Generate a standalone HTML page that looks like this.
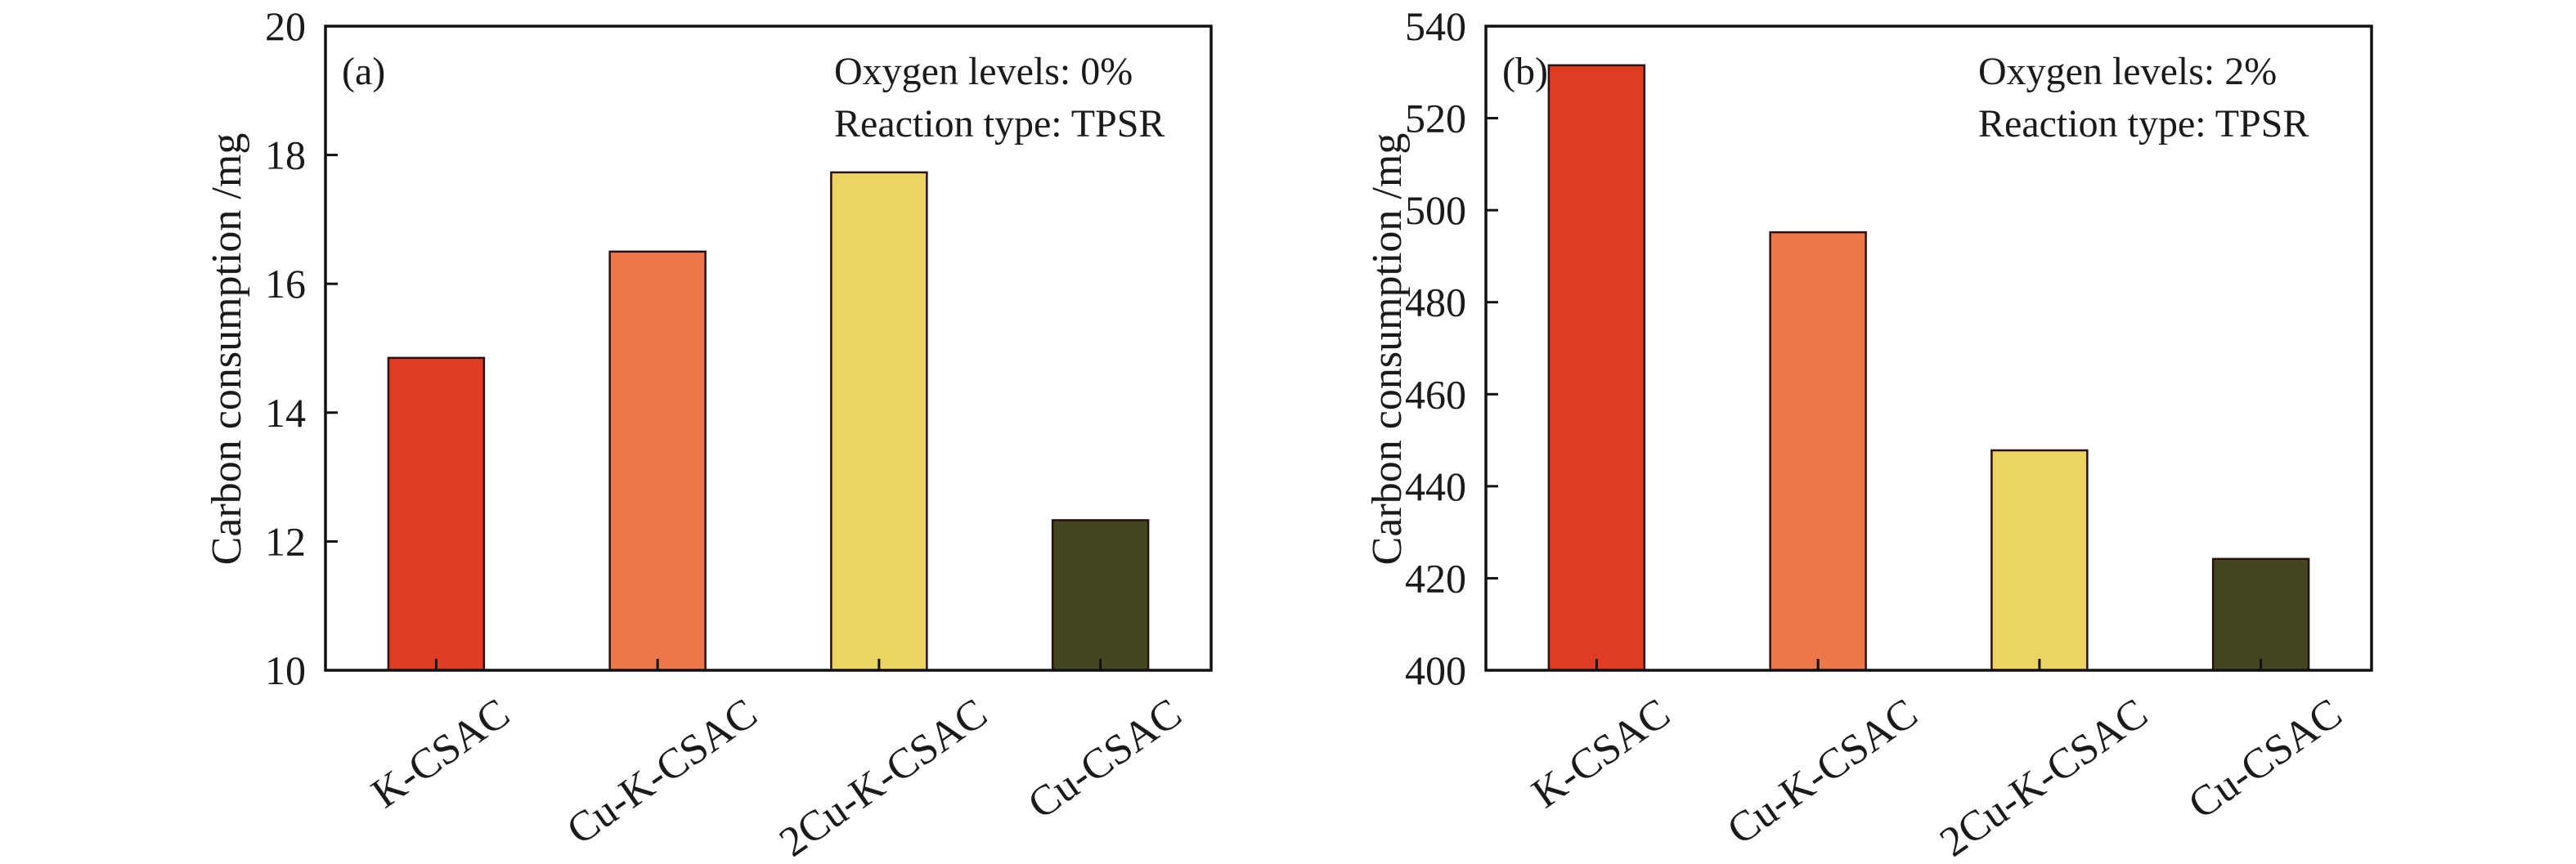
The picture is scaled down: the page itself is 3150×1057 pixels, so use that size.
<!DOCTYPE html>
<html><head><meta charset="utf-8"><style>
html,body{margin:0;padding:0;background:#fff;}
svg{display:block;}
text{font-family:"Liberation Serif",serif;fill:#1a1a1a;}
</style></head><body>
<svg id="chart" width="3150" height="1057" viewBox="0 0 3150 1057"></svg>
<script>
const categories = ["K-CSAC","Cu-K-CSAC","2Cu-K-CSAC","Cu-CSAC"];
const valuesA = [14.85, 16.5, 17.73, 12.33];
const valuesB = [531.5, 495.2, 447.8, 424.2];
const ticksA = [10,12,14,16,18,20];
const ticksB = [400,420,440,460,480,500,520,540];
const colors = ["#e03c24","#ec774a","#ebd462","#434620"];
const NS="http://www.w3.org/2000/svg";
const svg=document.getElementById('chart');
function mk(tag,attrs,parent){const e=document.createElementNS(NS,tag);for(const k in attrs)e.setAttribute(k,attrs[k]);(parent||svg).appendChild(e);return e;}

function panel(opt){
  const g=mk('g',{});
  
  
  const L=opt.x0,R=opt.x0+1083,T=32,B=820;
  const yMin=opt.ticks[0],yMax=opt.ticks[opt.ticks.length-1];
  const y=v=>B-(v-yMin)/(yMax-yMin)*(B-T);
  const band=(R-L)/categories.length;
  const xc=i=>L+band*(i+0.5);
  const bw=band*0.432;
  opt.values.forEach((v,i)=>{
    const r=mk('rect',{x:xc(i)-bw/2,y:y(v),width:bw,height:B-y(v),fill:colors[i],stroke:'#2a1010','stroke-width':2.5},g);
    
    
  });
  const frame=mk('rect',{x:L,y:T,width:R-L,height:B-T,fill:'none',stroke:'#111','stroke-width':3.5},g);
  
  
  opt.ticks.forEach(t=>{
    mk('line',{x1:L,x2:L+15,y1:y(t),y2:y(t),stroke:'#111','stroke-width':3},g);
    const tx=mk('text',{x:L-24,y:y(t)+17,'text-anchor':'end','font-size':50},g);
    tx.textContent=t;
    
    
  });
  categories.forEach((c,i)=>{
    mk('line',{x1:xc(i),x2:xc(i),y1:B,y2:B-14,stroke:'#111','stroke-width':3},g);
    const tx=mk('text',{x:0,y:0,'text-anchor':'middle','font-size':52},g);
    tx.textContent=c;
    
    
    const len=tx.getComputedTextLength();
    const a=35*Math.PI/180;
    const h=len*Math.sin(a)+36*Math.cos(a);
    const cx=xc(i)+15, cy=853+h/2;
    tx.setAttribute('transform','translate('+cx+','+(cy+13)+') rotate(-35)');
  });
  const yl=mk('text',{x:0,y:0,'text-anchor':'middle','font-size':52,transform:'translate('+(opt.x0-104)+',427) rotate(-90)'},g);
  yl.textContent='Carbon consumption /mg';
  
  
  const lab=mk('text',{x:L+20,y:103,'font-size':48},g);
  lab.textContent=opt.label;
  
  
  const t1=mk('text',{x:opt.annX,y:103,'font-size':48},g);
  t1.textContent=opt.oxy;
  
  
  const t2=mk('text',{x:opt.annX,y:167,'font-size':48},g);
  t2.textContent='Reaction type: TPSR';
  
  
}
panel({name:'panel-a',x0:398,values:valuesA,ticks:ticksA,label:'(a)',oxy:'Oxygen levels: 0%',annX:1020});
panel({name:'panel-b',x0:1817,values:valuesB,ticks:ticksB,label:'(b)',oxy:'Oxygen levels: 2%',annX:2419});
</script>
</body></html>
